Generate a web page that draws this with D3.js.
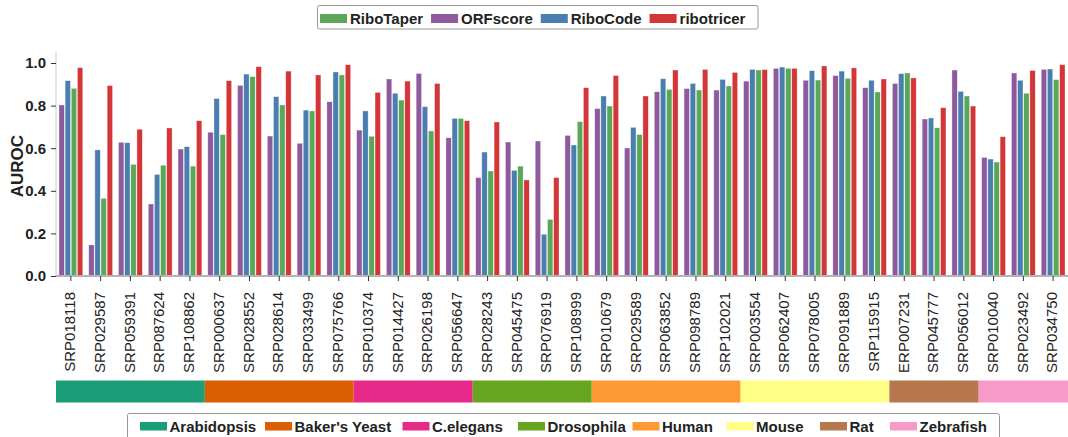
<!DOCTYPE html>
<html>
<head>
<meta charset="utf-8">
<script src="https://cdn.jsdelivr.net/npm/d3@7"></script>
<style>
  html, body { margin: 0; padding: 0; background: #fff; }
  svg { display: block; font-family: "Liberation Sans", Arial, sans-serif; }
</style>
</head>
<body>
<svg id="chart" width="1068" height="437"></svg>
<script>
// ---- data ----
const categories = ["SRP018118","SRP029587","SRP059391","SRP087624","SRP108862",
  "SRP000637","SRP028552","SRP028614","SRP033499","SRP075766",
  "SRP010374","SRP014427","SRP026198","SRP056647",
  "SRP028243","SRP045475","SRP076919","SRP108999",
  "SRP010679","SRP029589","SRP063852","SRP098789","SRP102021",
  "SRP003554","SRP062407","SRP078005","SRP091889","SRP115915",
  "ERP007231","SRP045777","SRP056012",
  "SRP010040","SRP023492","SRP034750"];
const ORFscore = [0.803,0.146,0.628,0.338,0.596, 0.675,0.895,0.657,0.623,0.818,
  0.685,0.925,0.951,0.649, 0.462,0.629,0.634,0.660,
  0.786,0.601,0.865,0.880,0.873, 0.915,0.975,0.919,0.941,0.884,
  0.904,0.737,0.967, 0.557,0.953,0.970];
const RiboCode = [0.917,0.592,0.626,0.477,0.607, 0.833,0.948,0.842,0.779,0.958,
  0.775,0.858,0.795,0.740, 0.582,0.496,0.196,0.615,
  0.845,0.698,0.926,0.904,0.923, 0.970,0.981,0.964,0.962,0.919,
  0.950,0.742,0.867, 0.549,0.919,0.972];
const RiboTaper = [0.881,0.365,0.524,0.520,0.516, 0.664,0.936,0.803,0.775,0.944,
  0.656,0.826,0.681,0.740, 0.493,0.516,0.266,0.725,
  0.798,0.664,0.876,0.873,0.892, 0.967,0.975,0.920,0.928,0.864,
  0.953,0.696,0.845, 0.535,0.858,0.922];
const ribotricer = [0.978,0.894,0.689,0.695,0.729, 0.917,0.983,0.962,0.944,0.992,
  0.862,0.915,0.904,0.729, 0.723,0.451,0.462,0.884,
  0.941,0.845,0.967,0.970,0.956, 0.969,0.975,0.986,0.977,0.925,
  0.930,0.790,0.798, 0.654,0.965,0.992];
const species = ["Arabidopsis","Baker's Yeast","C.elegans","Drosophila","Human","Mouse","Rat","Zebrafish"];
const speciesCounts = [5,5,4,4,5,5,3,3];
const yTicks = [0.0,0.2,0.4,0.6,0.8,1.0];
const legendOrder = ["RiboTaper","ORFscore","RiboCode","ribotricer"];
const barOrder = ["ORFscore","RiboCode","RiboTaper","ribotricer"];

// ---- styles / layout ----
const methodColor = {RiboTaper:"#5aa75a", ORFscore:"#8e5a9d", RiboCode:"#4a7eae", ribotricer:"#d43537"};
const speciesColor = ["#1b9e77","#d95f02","#e7298a","#66a61e","#ff9933","#ffff88","#b8784f","#f79ac9"];
const speciesLegendX = [140, 265, 402.5, 518, 632.5, 726.5, 820, 890];
const seriesMap = {ORFscore, RiboCode, RiboTaper, ribotricer};

const svg = d3.select("#chart");
const mLeft = 56, mRight = 1068, mTop = 52.35, mBottom = 276;

const x = d3.scaleBand().domain(categories).range([mLeft, mRight]).paddingInner(0.2).paddingOuter(0.1);
const xs = d3.scaleBand().domain(barOrder).range([0, x.bandwidth()]).paddingInner(0.12);
const y = d3.scaleLinear().domain([0, 1.05]).range([mBottom, mTop]);

// bars
const g = svg.append("g");
categories.forEach((c, i) => {
  barOrder.forEach(m => {
    const v = seriesMap[m][i];
    g.append("rect")
      .attr("x", x(c) + xs(m))
      .attr("y", y(v))
      .attr("width", xs.bandwidth())
      .attr("height", y(0) - y(v))
      .attr("fill", methodColor[m])
      .attr("stroke", "#ffffff")
      .attr("stroke-opacity", 0.6)
      .attr("stroke-width", 0.6);
  });
});

// y axis
const yAxis = svg.append("g").attr("transform", `translate(${mLeft},0)`)
  .call(d3.axisLeft(y).tickValues(yTicks).tickFormat(d3.format(".1f")).tickSize(5).tickPadding(5));
yAxis.select(".domain").attr("stroke", "#c8c8c8").attr("stroke-width", 1)
  .attr("d", `M0,${y(1.05)}V${y(0)}`);
yAxis.selectAll(".tick line").attr("stroke", "#333");
yAxis.selectAll(".tick text").attr("font-size", 15).attr("font-weight", "bold").attr("fill", "#222");

// x axis
const xAxis = svg.append("g").attr("transform", `translate(0,${mBottom})`)
  .call(d3.axisBottom(x).tickSize(5).tickSizeOuter(0));
xAxis.select(".domain").attr("stroke", "#b4b4b4").attr("stroke-width", 2)
  .attr("d", `M${mLeft},0H${mRight}`);
xAxis.selectAll(".tick line").attr("stroke", "#333");
xAxis.selectAll(".tick text")
  .attr("font-size", 15).attr("fill", "#222")
  .attr("text-anchor", "end")
  .attr("transform", "translate(-1,16) rotate(-90)")
  .attr("x", 0).attr("y", 0).attr("dy", "0.35em");

// y label
svg.append("text")
  .attr("transform", `translate(23,${(y(0) + y(1.05)) / 2 + 2}) rotate(-90)`)
  .attr("text-anchor", "middle")
  .attr("font-size", 17).attr("font-weight", "bold").attr("fill", "#222")
  .text("AUROC");

// species color bar
let start = 0;
const half = (x.step() - x.bandwidth()) / 2;
species.forEach((s, k) => {
  const first = categories[start], last = categories[start + speciesCounts[k] - 1];
  const x0 = x(first) - half, x1 = x(last) + x.bandwidth() + half;
  svg.append("rect").attr("x", x0).attr("y", 380.5).attr("width", x1 - x0).attr("height", 22)
    .attr("fill", speciesColor[k]);
  start += speciesCounts[k];
});

// top legend
svg.append("rect").attr("x", 317.5).attr("y", 5.5).attr("width", 440.5).attr("height", 23.5)
  .attr("rx", 2).attr("fill", "#fff").attr("stroke", "#999").attr("stroke-width", 1);
let lx = 320;
legendOrder.forEach(m => {
  svg.append("rect").attr("x", lx).attr("y", 14).attr("width", 27).attr("height", 9).attr("fill", methodColor[m]);
  const t = svg.append("text").attr("x", lx + 30).attr("y", 24).attr("font-size", 15)
    .attr("font-weight", "bold").attr("fill", "#222").text(m);
  lx += 30 + t.node().getComputedTextLength() + 8;
});

// bottom legend
svg.append("rect").attr("x", 127.5).attr("y", 413.5).attr("width", 872).attr("height", 30)
  .attr("rx", 2).attr("fill", "#fff").attr("stroke", "#999").attr("stroke-width", 1);
species.forEach((s, k) => {
  const bx = speciesLegendX[k];
  svg.append("rect").attr("x", bx).attr("y", 422).attr("width", 27).attr("height", 8.5).attr("fill", speciesColor[k]);
  svg.append("text").attr("x", bx + 29.5).attr("y", 431.5).attr("font-size", 15)
    .attr("font-weight", "bold").attr("fill", "#222").text(s);
});
</script>
</body>
</html>
